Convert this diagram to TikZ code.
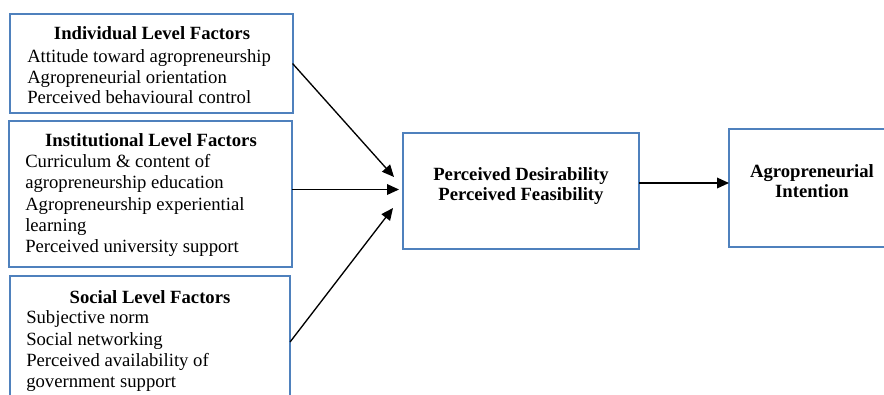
\documentclass[tikz,border=0pt]{standalone}
\usepackage{fontspec}
\setmainfont{Liberation Serif}
\usetikzlibrary{arrows.meta}
\definecolor{boxblue}{RGB}{79,129,189}
\begin{document}
\begin{tikzpicture}[x=0.75pt,y=-0.75pt,
  box/.style={draw=boxblue,line width=1.5pt,fill=white,anchor=north west,inner sep=0pt,outer sep=0pt},
  ttl/.style={font=\fontsize{14}{16}\selectfont\bfseries,anchor=base,inner sep=0pt},
  txt/.style={font=\fontsize{14}{16}\selectfont,anchor=base west,inner sep=0pt},
  arr/.style={line width=1pt,-{Triangle[length=9pt,width=8pt]}}]
\useasboundingbox (0,0) rectangle (884,394);
% boxes
\node[box,minimum width=211.9pt,minimum height=74.25pt] (b1) at (10,14) {};
\node[box,minimum width=212.6pt,minimum height=109.9pt] (b2) at (8.5,120.5) {};
\node[box,minimum width=210.4pt,minimum height=99pt] (b3) at (9.5,276) {};
\node[box,minimum width=177pt,minimum height=87pt] (m) at (403,133) {};
\node[box,minimum width=124.5pt,minimum height=88.5pt] (r) at (729,129) {};
% box 1
\node[ttl] (t1) at (152,39) {Individual Level Factors};
\node[txt] (t1a) at (27,62) {Attitude toward agropreneurship};
\node[txt] (t1b) at (27,83) {Agropreneurial orientation};
\node[txt] (t1c) at (27,103) {Perceived behavioural control};
% box 2
\node[ttl] (t2) at (151,146) {Institutional Level Factors};
\node[txt] (t2a) at (25,167) {Curriculum \& content of};
\node[txt] (t2b) at (25,188) {agropreneurship education};
\node[txt] (t2c) at (25,210) {Agropreneurship experiential};
\node[txt] (t2d) at (25,231) {learning};
\node[txt] (t2e) at (25,252) {Perceived university support};
% box 3
\node[ttl] (t3) at (150,303) {Social Level Factors};
\node[txt] (t3a) at (26,323) {Subjective norm};
\node[txt] (t3b) at (26,345) {Social networking};
\node[txt] (t3c) at (26,366) {Perceived availability of};
\node[txt] (t3d) at (26,387) {government support};
% middle and right
\node[ttl] (m1) at (521,180) {Perceived Desirability};
\node[ttl] (m2) at (521,200) {Perceived Feasibility};
\node[ttl] (r1) at (812,177) {Agropreneurial};
\node[ttl] (r2) at (812,197) {Intention};
% arrow end points
\coordinate (e1) at (394,177);
\coordinate (e2) at (399,189.5);
\coordinate (e3) at (393,208);
\coordinate (ay) at (0,183);
\draw[arr] (b1.east) -- (e1);
\draw[arr] (b2.east |- e2) -- (e2);
\draw[arr] (b3.east) -- (e3);
\draw[arr] (m.east |- ay) -- (r.west |- ay);
\end{tikzpicture}
\end{document}
